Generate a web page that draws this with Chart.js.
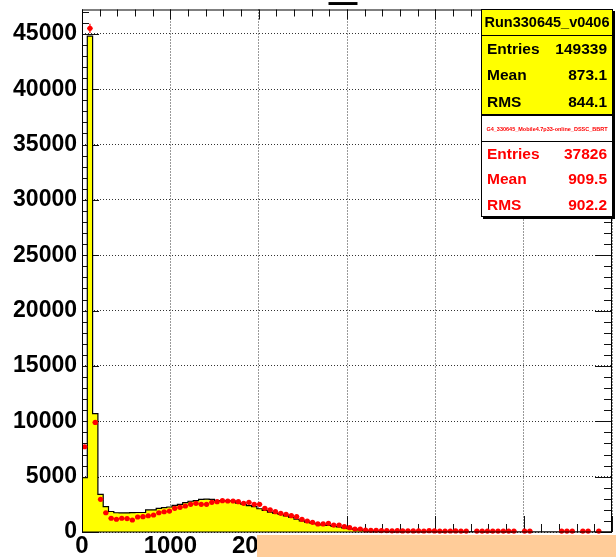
<!DOCTYPE html>
<html>
<head>
<meta charset="utf-8">
<script src="https://cdn.jsdelivr.net/npm/chart.js@4.4.1/dist/chart.umd.min.js"></script>
<style>
  html, body { margin: 0; padding: 0; background: #fff; }
  canvas { display: block; }
</style>
</head>
<body>
<canvas id="histo" width="616" height="557"></canvas>
<script>
// binning of both histograms: 100 bins of 60 from 0 to 6000
const binWidth = 60
const xMin = 0
const xMax = 6000
const yMax = 47200

const xTickValues = [0, 1000, 2000, 3000, 4000, 5000, 6000]
const yTickValues = [0, 5000, 10000, 15000, 20000, 25000, 30000, 35000, 40000, 45000]

// reference run (yellow filled histogram), one count per bin
const refCounts = [
  4900, 44800, 10700, 3400, 2290, 1850, 1740, 1720, 1730, 1750,
  1760, 1760, 1990, 2000, 2140, 2200, 2260, 2400, 2500, 2650,
  2780, 2830, 2950, 2970, 2950, 2830, 2830, 2820, 2800, 2600,
  2500, 2380, 2290, 2100, 1950, 1800, 1680, 1580, 1450, 1320,
  1150, 1000, 900, 790, 700, 650, 600, 500, 450, 380,
  300, 240, 180, 120, 80, 50, 35, 25, 20, 15,
  12, 10, 9, 8, 7, 6, 6, 5, 5, 4,
  4, 4, 3, 3, 3, 3, 2, 2, 2, 2,
  2, 2, 1, 1, 1, 1, 1, 1, 1, 1,
  1, 1, 1, 0, 1, 0, 0, 1, 0, 0
]

// new run (red points), scaled to the reference; null = empty bin
const newCounts = [
  7700, 45500, 9900, 2950, 1740, 1240, 1150, 1240, 1210, 1085,
  1355, 1380, 1470, 1535, 1740, 1830, 1890, 2140, 2230, 2350,
  2500, 2590, 2500, 2500, 2680, 2740, 2830, 2800, 2800, 2740,
  2590, 2680, 2500, 2500, 2140, 1990, 1840, 1690, 1600, 1475,
  1385, 1145, 995, 875, 725, 725, 785, 630, 630, 480,
  390, 270, 270, 180, 150, 150, 130, 130, 110, 120,
  100, 110, 100, 110, 90, 120, 100, 80, 80, 90,
  100, 80, 80, null, 80, 80, 80, 80, 80, 80,
  80, 80, null, 80, 80, null, null, null, null, null,
  80, 80, 80, null, 80, 80, null, 80, null, null
]

const statLabels = ['Entries', 'Mean', 'RMS']
const refName = 'Run330645_v0406'
const refStats = ['149339', '873.1', '844.1']
const newName = 'G4_330645_Mobile4.7p33-online_DSSC_BBRT'
const newStats = ['37826', '909.5', '902.2']

// weight of one new-run entry after scaling to the reference
const newScale = 149339 / 37826

const refPoints = refCounts.map((c, i) => ({ x: i * binWidth, y: c }))
refPoints.push({ x: xMax, y: refCounts[refCounts.length - 1] })

const newPoints = []
newCounts.forEach((c, i) => {
  if (c !== null) newPoints.push({ x: i * binWidth + binWidth / 2, y: c })
})

const labelFont = { family: 'Liberation Sans', weight: 'bold' }

function line(ctx, x1, y1, x2, y2) {
  ctx.beginPath()
  ctx.moveTo(x1, y1)
  ctx.lineTo(x2, y2)
  ctx.stroke()
}

function statsBox(ctx, top, bottom, headBottom, fill, headFill, color, name, nameFont, values) {
  const left = 481, right = 613
  ctx.fillStyle = '#000'
  ctx.fillRect(left + 2, top + 2, right - left, bottom - top)
  ctx.fillStyle = headFill
  ctx.fillRect(left, top, right - left, headBottom - top)
  ctx.fillStyle = fill
  ctx.fillRect(left, headBottom, right - left, bottom - headBottom)
  ctx.strokeStyle = '#000'
  ctx.lineWidth = 1
  ctx.strokeRect(left + 0.5, top + 0.5, right - left - 1, bottom - top - 1)
  line(ctx, left, headBottom + 0.5, right, headBottom + 0.5)

  ctx.fillStyle = color
  ctx.textBaseline = 'middle'
  ctx.textAlign = 'center'
  ctx.font = nameFont
  ctx.fillText(name, (left + right) / 2, (top + headBottom) / 2 + 1)

  ctx.font = 'bold 15.5px "Liberation Sans"'
  const rowH = (bottom - headBottom) / 3
  values.forEach((v, i) => {
    const y = headBottom + rowH * (i + 0.5) + 1
    ctx.textAlign = 'left'
    ctx.fillText(statLabels[i], 487, y)
    ctx.textAlign = 'right'
    ctx.fillText(v, 607, y)
  })
}

const rootStyle = {
  id: 'rootStyle',
  // tick marks on all four sides, under the filled histogram
  beforeDatasetsDraw(chart) {
    const { ctx, chartArea: a, scales: { x, y } } = chart
    ctx.save()
    ctx.strokeStyle = '#111'
    ctx.lineWidth = 1
    for (let v = xMin; v <= xMax; v += 200) {
      const px = Math.round(x.getPixelForValue(v)) + 0.5
      const major = v % 1000 === 0
      line(ctx, px, a.bottom, px, a.bottom - (major ? 16 : 8))
      line(ctx, px, a.top, px, a.top + (major ? 10 : 7))
    }
    for (let v = 0; v <= yMax; v += 1000) {
      const py = Math.round(y.getPixelForValue(v)) + 0.5
      const major = v % 5000 === 0
      line(ctx, a.left, py, a.left + (major ? 17 : 7), py)
      line(ctx, a.right, py, a.right - (major ? 17 : 8), py)
    }
    ctx.restore()
  },
  // error bars of the red points, drawn right after the yellow histogram
  afterDatasetDraw(chart, args) {
    if (args.index !== 0) return
    const { ctx, scales: { x, y } } = chart
    ctx.save()
    ctx.strokeStyle = '#ff0000'
    ctx.lineWidth = 1.2
    newPoints.forEach(p => {
      const err = Math.sqrt(p.y * newScale)
      const px = x.getPixelForValue(p.x)
      const py = y.getPixelForValue(p.y)
      line(ctx, x.getPixelForValue(p.x - binWidth / 2), py, x.getPixelForValue(p.x + binWidth / 2), py)
      line(ctx, px, y.getPixelForValue(p.y - err), px, y.getPixelForValue(p.y + err))
    })
    ctx.restore()
  },
  afterDraw(chart) {
    const { ctx, chartArea: a } = chart
    ctx.save()
    ctx.strokeStyle = '#000'
    ctx.lineWidth = 1
    ctx.strokeRect(a.left + 0.5, a.top + 0.5, a.right - a.left - 1, a.bottom - a.top - 0.5)

    // histogram title
    ctx.fillStyle = '#000'
    ctx.font = 'bold 29px "Liberation Sans"'
    ctx.textAlign = 'center'
    ctx.textBaseline = 'middle'
    ctx.fillText('—', 343, 3.5)

    statsBox(ctx, 9, 115, 35, '#ffff00', '#ffff00', '#000', refName,
      'bold 14.5px "Liberation Sans"', refStats)
    statsBox(ctx, 115, 217, 141, '#ffffff', '#ffffff', '#ff0000', newName,
      'bold 5.5px "Liberation Sans"', newStats)

    ctx.fillStyle = '#ffcc99'
    ctx.fillRect(257, 535, 616 - 257, 557 - 535)
    ctx.restore()
  }
}

new Chart(document.getElementById('histo'), {
  type: 'line',
  data: {
    datasets: [
      {
        data: refPoints,
        stepped: 'before',
        fill: 'origin',
        backgroundColor: '#ffff00',
        borderColor: '#000',
        borderWidth: 1.2,
        pointRadius: 0,
        order: 2,
      },
      {
        type: 'scatter',
        data: newPoints,
        backgroundColor: '#ff0000',
        borderColor: '#ff0000',
        pointRadius: 2.6,
        pointBorderWidth: 0,
        clip: false,
        order: 1,
      },
    ]
  },
  options: {
    responsive: false,
    animation: false,
    layout: { padding: { top: 9.5, right: 3, left: 0, bottom: 0 } },
    plugins: {
      legend: { display: false },
      tooltip: { enabled: false },
    },
    scales: {
      x: {
        type: 'linear',
        min: xMin,
        max: xMax,
        afterBuildTicks: s => { s.ticks = xTickValues.map(v => ({ value: v })) },
        afterFit: s => { s.height = 25; s.paddingLeft = 0; s.paddingRight = 0 },
        grid: { color: '#333', drawTicks: false },
        border: { display: false, dash: [1, 2] },
        ticks: {
          font: { ...labelFont, size: 24 },
          color: '#000',
          padding: 0,
          maxRotation: 0,
          autoSkip: false,
          callback: v => String(v),
        },
      },
      y: {
        min: 0,
        max: yMax,
        afterBuildTicks: s => { s.ticks = yTickValues.map(v => ({ value: v })) },
        afterFit: s => { s.width = 82; s.paddingTop = 0; s.paddingBottom = 0 },
        grid: { color: '#333', drawTicks: false },
        border: { display: false, dash: [1, 2] },
        ticks: {
          font: { ...labelFont, size: 23 },
          color: '#000',
          padding: 5,
          autoSkip: false,
          callback: v => String(v),
        },
      },
    }
  },
  plugins: [rootStyle]
})
</script>
</body>
</html>
